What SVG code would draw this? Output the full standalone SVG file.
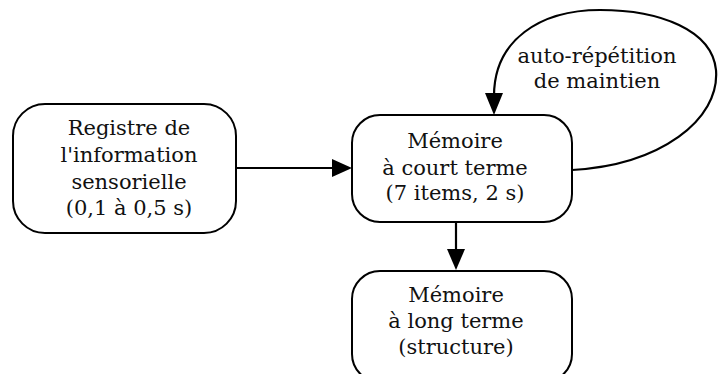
<svg xmlns="http://www.w3.org/2000/svg" width="718" height="374" viewBox="0 0 718 374">
<style>
.box{fill:#fff;stroke:#000;stroke-width:2}
.e{fill:none;stroke:#000;stroke-width:2.2}
.h{fill:#000}
</style>
<rect width="718" height="374" fill="#fff"/>
<g font-family="DejaVu Serif, serif" font-size="21" fill="#111" text-anchor="middle">
<g id="connectors">
<line class="e" x1="236" y1="168" x2="334" y2="168"/>
<polygon class="h" points="352,168 332,159 332,177"/>
<line class="e" x1="456" y1="222" x2="456" y2="251"/>
<polygon class="h" points="456,270 447,249 465,249"/>
<path class="e" stroke-width="1.6" d="M 572 170 C 660 165, 720 120, 716 70 C 712 30, 660 10, 600 10 C 540 10, 494 40, 494 96"/>
<polygon class="h" points="494,115 485,93 503,93"/>
<text x="597" y="63">auto-répétition</text>
<text x="597" y="88">de maintien</text>
</g>
<g id="n1">
<rect class="box" x="13" y="104" width="223" height="129" rx="32"/>
<text x="129" y="135">Registre de</text>
<text x="129" y="162">l'information</text>
<text x="129" y="189">sensorielle</text>
<text x="129" y="215">(0,1 à 0,5 s)</text>
</g>
<g id="n2">
<rect class="box" x="352" y="115" width="220" height="107" rx="28"/>
<text x="455" y="148">Mémoire</text>
<text x="455" y="175">à court terme</text>
<text x="455" y="200">(7 items, 2 s)</text>
</g>
<g id="n3">
<rect class="box" x="352" y="271" width="220" height="111" rx="28"/>
<text x="456" y="302">Mémoire</text>
<text x="456" y="328">à long terme</text>
<text x="456" y="354">(structure)</text>
</g>
</g>
</svg>
